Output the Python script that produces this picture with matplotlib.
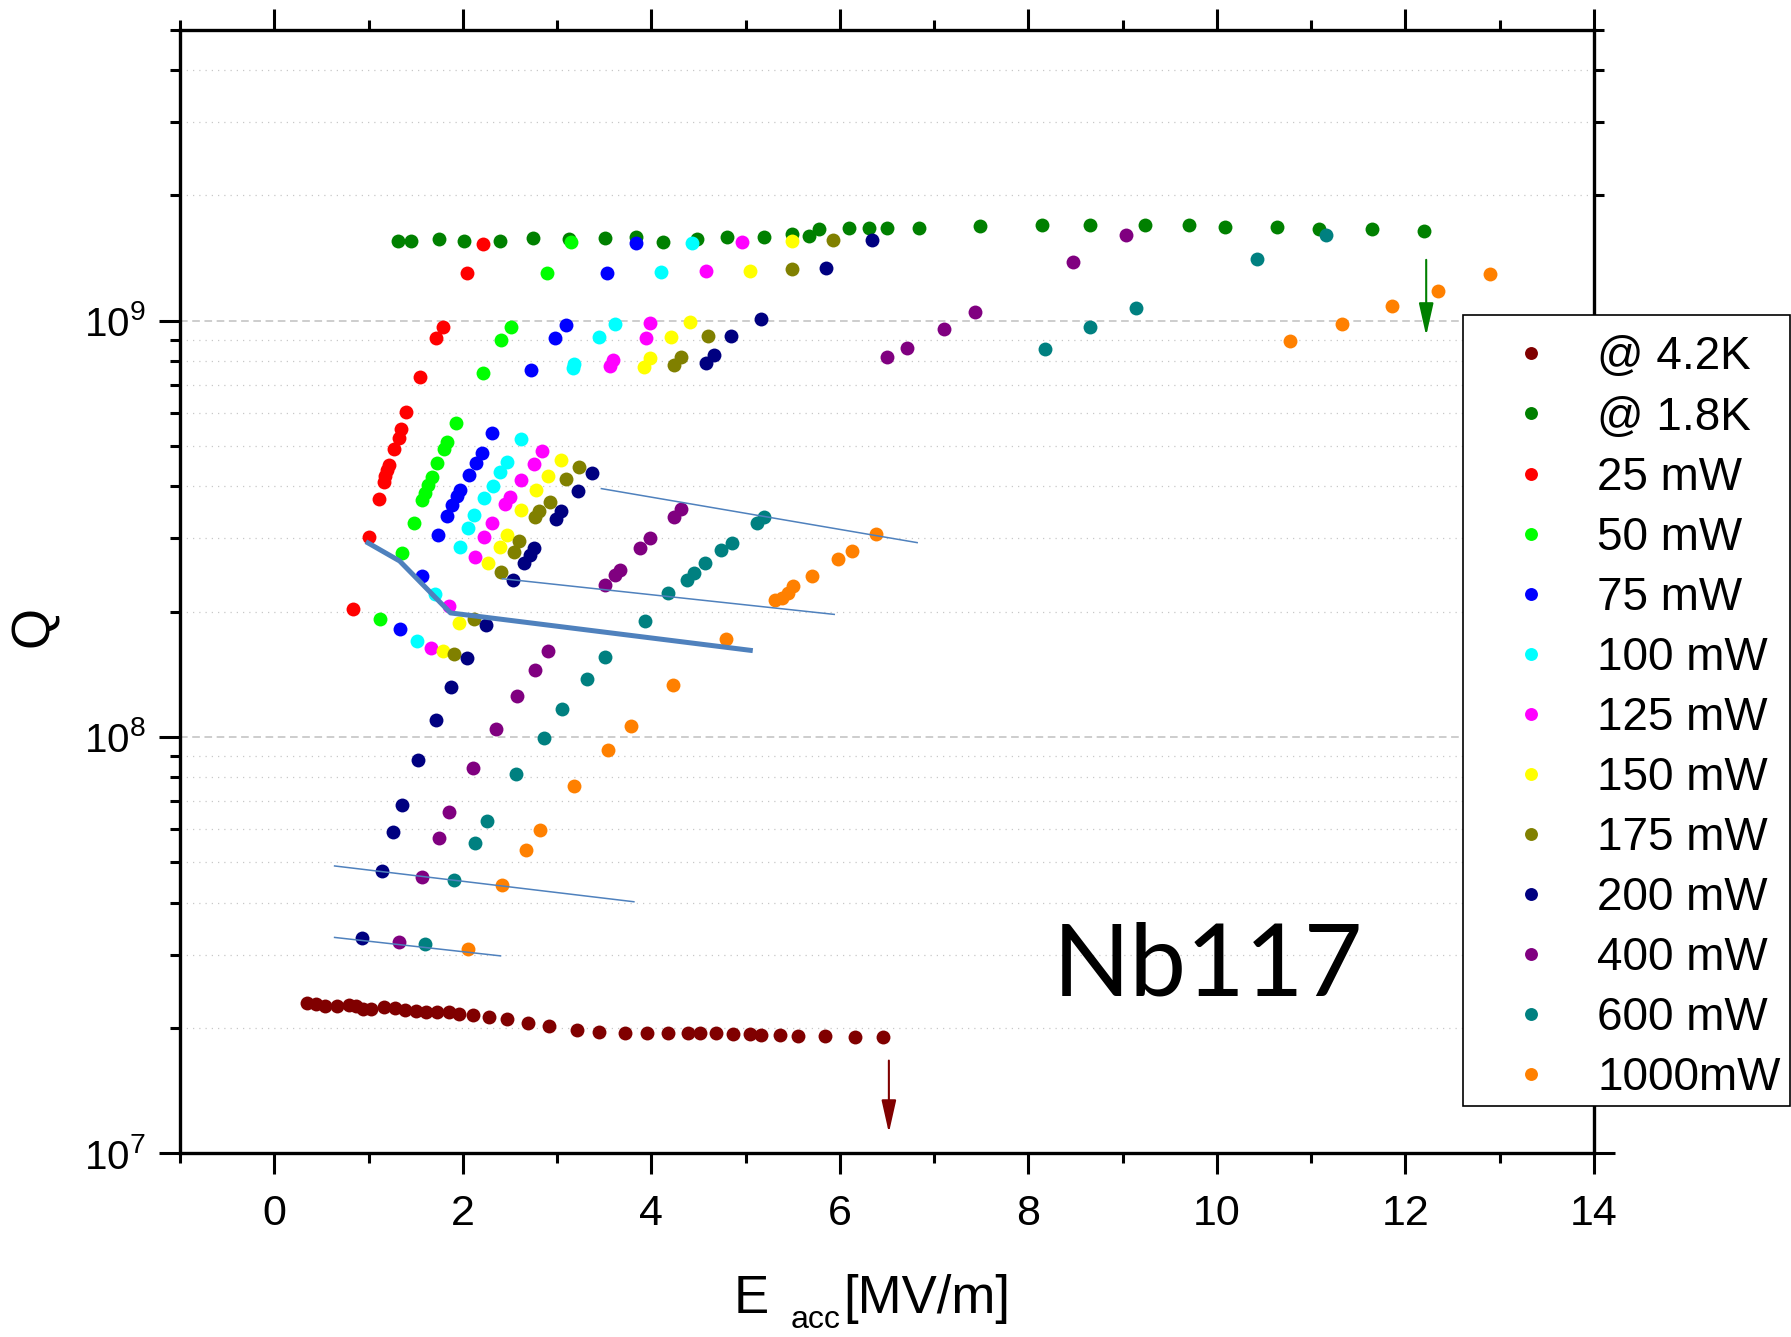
import numpy as np
import matplotlib
matplotlib.use("Agg")
from matplotlib import pyplot as plt
from matplotlib.patches import Rectangle
from matplotlib.ticker import LogLocator, MultipleLocator, NullFormatter

plt.rcParams['font.family'] = ['Liberation Sans', 'DejaVu Sans']
plt.rcParams['mathtext.fontset'] = 'custom'
plt.rcParams['mathtext.rm'] = 'Liberation Sans'
plt.rcParams['mathtext.it'] = 'Liberation Sans:italic'
plt.rcParams['mathtext.default'] = 'regular'

# Q(Eacc) curves, Eacc in MV/m
e_42k = [0.35, 0.44, 0.54, 0.67, 0.79, 0.87, 0.94, 1.03, 1.16, 1.28, 1.39, 1.50, 1.61,
         1.73, 1.85, 1.96, 2.11, 2.28, 2.47, 2.69, 2.91, 3.21, 3.44, 3.72, 3.95, 4.18,
         4.39, 4.52, 4.69, 4.87, 5.05, 5.16, 5.36, 5.56, 5.84, 6.16, 6.46]
q_42k = [2.30e7, 2.28e7, 2.26e7, 2.26e7, 2.27e7, 2.26e7, 2.22e7, 2.22e7, 2.24e7, 2.23e7,
         2.21e7, 2.20e7, 2.18e7, 2.18e7, 2.18e7, 2.16e7, 2.15e7, 2.12e7, 2.10e7, 2.06e7,
         2.02e7, 1.98e7, 1.96e7, 1.95e7, 1.94e7, 1.94e7, 1.94e7, 1.94e7, 1.94e7, 1.93e7,
         1.93e7, 1.92e7, 1.92e7, 1.91e7, 1.91e7, 1.90e7, 1.90e7]

e_18k = [1.31, 1.45, 1.75, 2.01, 2.39, 2.74, 3.13, 3.51, 3.84, 4.12, 4.48, 4.80, 5.19,
         5.49, 5.67, 5.78, 6.10, 6.31, 6.50, 6.84, 7.49, 8.14, 8.65, 9.24, 9.70, 10.09,
         10.64, 11.08, 11.64, 12.20]
q_18k = [1.556e9, 1.556e9, 1.568e9, 1.556e9, 1.553e9, 1.577e9, 1.568e9, 1.577e9, 1.586e9,
         1.548e9, 1.568e9, 1.586e9, 1.591e9, 1.613e9, 1.600e9, 1.658e9, 1.667e9, 1.667e9,
         1.673e9, 1.669e9, 1.688e9, 1.700e9, 1.700e9, 1.694e9, 1.694e9, 1.681e9, 1.676e9,
         1.663e9, 1.658e9, 1.645e9]

e_25 = [0.83, 1.005, 1.11, 1.16, 1.18, 1.20, 1.22, 1.27, 1.32, 1.34, 1.40, 1.55, 1.72,
        1.79, 2.04, 2.21]
q_25 = [2.03e8, 3.02e8, 3.72e8, 4.09e8, 4.23e8, 4.37e8, 4.51e8, 4.91e8, 5.23e8, 5.48e8,
        6.03e8, 7.33e8, 9.10e8, 9.67e8, 1.303e9, 1.528e9]

e_50 = [1.12, 1.35, 1.48, 1.57, 1.60, 1.635, 1.67, 1.73, 1.80, 1.83, 1.93, 2.21, 2.40,
        2.51, 2.89, 3.15]
q_50 = [1.925e8, 2.77e8, 3.27e8, 3.71e8, 3.86e8, 4.03e8, 4.21e8, 4.56e8, 4.93e8, 5.12e8,
        5.69e8, 7.50e8, 8.98e8, 9.67e8, 1.299e9, 1.543e9]

e_75 = [1.33, 1.57, 1.74, 1.83, 1.886, 1.94, 1.97, 2.07, 2.135, 2.20, 2.31, 2.725, 2.98,
        3.09, 3.53, 3.84]
q_75 = [1.82e8, 2.44e8, 3.06e8, 3.39e8, 3.60e8, 3.79e8, 3.93e8, 4.27e8, 4.56e8, 4.82e8,
        5.38e8, 7.61e8, 9.10e8, 9.76e8, 1.299e9, 1.534e9]

e_100 = [1.51, 1.71, 1.97, 2.06, 2.12, 2.23, 2.325, 2.395, 2.47, 2.62, 3.165, 3.175, 3.45,
         3.61, 4.10, 4.43]
q_100 = [1.70e8, 2.21e8, 2.86e8, 3.18e8, 3.41e8, 3.75e8, 4.01e8, 4.33e8, 4.58e8, 5.21e8,
         7.70e8, 7.85e8, 9.12e8, 9.83e8, 1.307e9, 1.534e9]

e_125 = [1.66, 1.85, 2.13, 2.23, 2.315, 2.445, 2.50, 2.62, 2.76, 2.84, 3.56, 3.59, 3.94,
         3.99, 4.58, 4.96]
q_125 = [1.64e8, 2.06e8, 2.71e8, 3.03e8, 3.26e8, 3.62e8, 3.77e8, 4.15e8, 4.53e8, 4.86e8,
         7.78e8, 8.04e8, 9.10e8, 9.89e8, 1.316e9, 1.543e9]

e_150 = [1.79, 1.96, 2.27, 2.39, 2.47, 2.62, 2.78, 2.90, 3.04, 3.92, 3.99, 4.21, 4.41,
         5.05, 5.49]
q_150 = [1.61e8, 1.88e8, 2.62e8, 2.86e8, 3.06e8, 3.51e8, 3.93e8, 4.23e8, 4.62e8, 7.75e8,
         8.12e8, 9.13e8, 9.91e8, 1.318e9, 1.553e9]

e_175 = [1.91, 2.12, 2.40, 2.54, 2.60, 2.77, 2.81, 2.93, 3.10, 3.23, 4.24, 4.32, 4.60,
         5.49, 5.93]
q_175 = [1.58e8, 1.925e8, 2.49e8, 2.78e8, 2.95e8, 3.37e8, 3.49e8, 3.67e8, 4.16e8, 4.46e8,
         7.82e8, 8.19e8, 9.20e8, 1.331e9, 1.562e9]

e_200 = [0.93, 1.14, 1.26, 1.36, 1.53, 1.72, 1.87, 2.04, 2.25, 2.53, 2.65, 2.71, 2.76,
         2.985, 3.04, 3.22, 3.375, 4.58, 4.67, 4.85, 5.16, 5.85, 6.34]
q_200 = [3.29e7, 4.76e7, 5.92e7, 6.86e7, 8.82e7, 1.096e8, 1.318e8, 1.55e8, 1.855e8, 2.38e8,
         2.62e8, 2.73e8, 2.84e8, 3.33e8, 3.49e8, 3.89e8, 4.31e8, 7.92e8, 8.27e8, 9.20e8,
         1.009e9, 1.341e9, 1.565e9]

e_400 = [1.32, 1.57, 1.75, 1.85, 2.11, 2.35, 2.58, 2.765, 2.90, 3.51, 3.61, 3.67, 3.88,
         3.985, 4.24, 4.31, 6.50, 6.71, 7.11, 7.43, 8.47, 9.035]
q_400 = [3.21e7, 4.62e7, 5.73e7, 6.60e7, 8.44e7, 1.047e8, 1.254e8, 1.45e8, 1.61e8, 2.32e8,
         2.45e8, 2.52e8, 2.84e8, 3.00e8, 3.38e8, 3.52e8, 8.19e8, 8.58e8, 9.53e8, 1.049e9,
         1.385e9, 1.603e9]

e_600 = [1.60, 1.905, 2.13, 2.255, 2.56, 2.86, 3.05, 3.32, 3.51, 3.93, 4.18, 4.375, 4.45,
         4.57, 4.74, 4.855, 5.12, 5.20, 8.18, 8.65, 9.14, 10.43, 11.16]
q_600 = [3.18e7, 4.54e7, 5.56e7, 6.27e7, 8.13e7, 9.94e7, 1.17e8, 1.38e8, 1.554e8, 1.90e8,
         2.22e8, 2.38e8, 2.48e8, 2.62e8, 2.81e8, 2.92e8, 3.27e8, 3.38e8, 8.53e8, 9.67e8,
         1.072e9, 1.404e9, 1.603e9]

e_1000 = [2.05, 2.42, 2.67, 2.82, 3.18, 3.54, 3.78, 4.23, 4.79, 5.31, 5.39, 5.455, 5.50,
          5.70, 5.98, 6.125, 6.38, 10.78, 11.33, 11.855, 12.34, 12.90]
q_1000 = [3.10e7, 4.40e7, 5.36e7, 5.99e7, 7.62e7, 9.29e7, 1.06e8, 1.33e8, 1.723e8, 2.13e8,
          2.16e8, 2.22e8, 2.30e8, 2.44e8, 2.68e8, 2.79e8, 3.08e8, 8.93e8, 9.80e8, 1.084e9,
          1.178e9, 1.296e9]

labels = ["@ 4.2K", "@ 1.8K", "25 mW", "50 mW", "75 mW", "100 mW", "125 mW", "150 mW",
          "175 mW", "200 mW", "400 mW", "600 mW", "1000mW"]
colors = ["#800000", "#008000", "#ff0000", "#00ff00", "#0000ff", "#00ffff", "#ff00ff",
          "#ffff00", "#808000", "#000080", "#800080", "#008080", "#ff8000"]
e_sets = [e_42k, e_18k, e_25, e_50, e_75, e_100, e_125, e_150, e_175, e_200, e_400, e_600, e_1000]
q_sets = [q_42k, q_18k, q_25, q_50, q_75, q_100, q_125, q_150, q_175, q_200, q_400, q_600, q_1000]

# guide lines (thin) and the Q-drop line (thick)
guide_e = [[3.47, 6.82], [2.42, 5.94], [0.64, 3.815], [0.64, 2.40]]
guide_q = [[3.95e8, 2.93e8], [2.40e8, 1.97e8], [4.90e7, 4.02e7], [3.30e7, 2.98e7]]
drop_e = [0.995, 1.33, 1.87, 5.05]
drop_q = [2.925e8, 2.647e8, 1.986e8, 1.615e8]

# quench markers: (Eacc, Q start, Q tip, colour)
quench = [(6.52, 1.67e7, 1.12e7, "#800000"), (12.22, 1.40e9, 9.2e8, "#008000")]

W, H = 1791, 1337
fig = plt.figure(figsize=(W / 100, H / 100), dpi=100)
ax = fig.add_axes([0.1005, 0.1374, 0.7895, 0.8404])

handles = []
for e, q, c, lab in zip(e_sets, q_sets, colors, labels):
    h, = ax.plot(e, q, 'o', ms=10, color=c, mec='none', label=lab, zorder=3)
    handles.append(h)

for ge, gq in zip(guide_e, guide_q):
    ax.plot(ge, gq, color='#4f81bd', lw=1.1, zorder=4)
ax.plot(drop_e, drop_q, color='#4f81bd', lw=3.6, zorder=4)

for x, q0, q1, c in quench:
    ax.annotate('', xy=(x, q1), xytext=(x, q0),
                arrowprops=dict(arrowstyle='-|>,head_length=2.0,head_width=0.45',
                                color=c, lw=1.5, shrinkA=0, shrinkB=0),
                zorder=5)

ax.set_xlim(-1, 14)
ax.set_yscale('log')
ax.set_ylim(1e7, 5e9)
ax.xaxis.set_major_locator(MultipleLocator(2))
ax.xaxis.set_minor_locator(MultipleLocator(1))
ax.yaxis.set_major_locator(LogLocator(base=10, numticks=10))
ax.yaxis.set_minor_locator(LogLocator(base=10, subs=np.arange(2, 10), numticks=20))
ax.yaxis.set_minor_formatter(NullFormatter())

ax.tick_params(which='both', direction='out', top=True, right=True, width=2.2,
               labelsize=31, labeltop=False, labelright=False)
ax.tick_params(which='major', length=15)
ax.tick_params(which='minor', length=7.5)
ax.tick_params(axis='x', which='major', pad=14)
ax.tick_params(axis='y', which='major', pad=10, labelsize=29)
for sp in ax.spines.values():
    sp.set_linewidth(2.4)

ax.yaxis.grid(True, which='major', ls=(0, (5, 3)), color='#c0c0c0', lw=1.1)
ax.yaxis.grid(True, which='minor', ls=(0, (1, 4)), color='#c8c8c8', lw=0.9)
ax.set_axisbelow(True)

# x title: E with a low-set "acc" subscript, then the unit
fig.text(734 / W, 1 - 1312.7 / H, 'E', fontsize=38, ha='left', va='baseline')
fig.text(791 / W, 1 - 1328 / H, 'acc', fontsize=23, ha='left', va='baseline')
fig.text(843 / W, 1 - 1312.7 / H, '[MV/m]', fontsize=38, ha='left', va='baseline')

ax.set_ylabel('Q', fontsize=38)
ax.yaxis.label.set_va('center')
ax.yaxis.set_label_coords(-0.103, 0.469)

ax.text(0.617, 0.1407, 'Nb117', transform=ax.transAxes, fontsize=73,
        family=['Lato', 'DejaVu Sans'], ha='left', va='baseline')

# legend box sticks out past the right spine, up to the figure edge
box = Rectangle((1463 / W, 1 - 1106 / H), 327 / W, 791 / H, transform=fig.transFigure,
                facecolor='white', edgecolor='black', lw=1.2, zorder=4)
fig.patches.append(box)

leg = fig.legend(handles, labels, loc='upper left',
                 bbox_to_anchor=(1463 / W, 1 - 317.6 / H),
                 bbox_transform=fig.transFigure, fontsize=33, frameon=False,
                 borderpad=0.39, handlelength=2.19, handletextpad=0.345,
                 labelspacing=0.35, markerscale=0.93, borderaxespad=0, numpoints=1)
leg.set_zorder(5)

fig.savefig('out.png', dpi=100)
